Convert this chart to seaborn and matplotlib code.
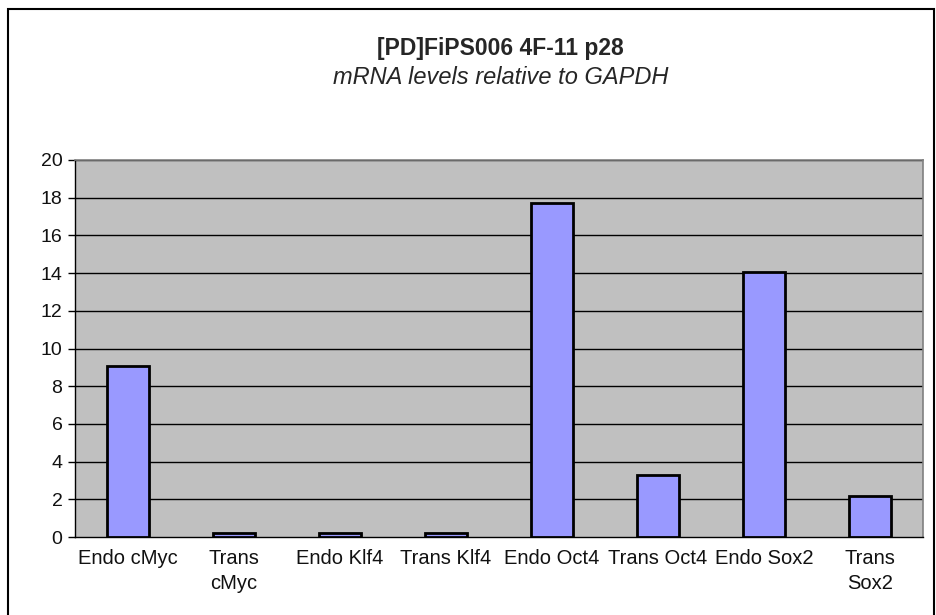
import matplotlib
matplotlib.use("Agg")
import matplotlib.pyplot as plt
import seaborn as sns
import pandas as pd
import numpy as np
from matplotlib.patches import Rectangle

categories = ["Endo cMyc", "Trans\ncMyc", "Endo Klf4", "Trans Klf4",
              "Endo Oct4", "Trans Oct4", "Endo Sox2", "Trans\nSox2"]
values = [9.05, 0.22, 0.22, 0.22, 17.7, 3.3, 14.05, 2.15]
y_ticks = [0, 2, 4, 6, 8, 10, 12, 14, 16, 18, 20]
title = "[PD]FiPS006 4F-11 p28"
subtitle = "mRNA levels relative to GAPDH"

sns.set_style("white")
plt.rcParams['font.family'] = ['Liberation Sans', 'DejaVu Sans']

df = pd.DataFrame({"cat": categories, "val": values})

fig = plt.figure(figsize=(9.37, 6.15), dpi=100)
ax = fig.add_axes([75/937, 78/615, 848/937, 377/615])
ax.set_facecolor("#C0C0C0")

sns.barplot(data=df, x="cat", y="val", color="#9999FF", width=0.4,
            edgecolor="black", linewidth=2, saturation=1, ax=ax, zorder=3)

ax.set_ylim(0, 20)
ax.set_xlim(-0.5, len(categories) - 0.5)
ax.set_yticks(y_ticks)
ax.set_yticklabels([str(t) for t in y_ticks], fontsize=14, color="#111111")
for t in y_ticks[1:]:
    ax.axhline(t, color="black", lw=1, zorder=1)

ax.set_xticks(np.arange(len(categories)))
ax.set_xticklabels(categories, fontsize=14.5, linespacing=1.35, color="#111111")
ax.tick_params(axis="x", length=0, pad=9)
ax.set_xticks(np.arange(-0.5, len(categories)), minor=True)
ax.tick_params(axis="x", which="minor", length=5, width=1, direction="out", color="black")
ax.tick_params(axis="y", length=5, width=1, direction="out", color="black", pad=4, left=True)
ax.set_xlabel("")
ax.set_ylabel("")

for s in ["left", "bottom"]:
    ax.spines[s].set_color("black")
    ax.spines[s].set_linewidth(1)
for s in ["top", "right"]:
    ax.spines[s].set_color("#808080")
    ax.spines[s].set_linewidth(1.2)

cx = (75 + 848 / 2) / 937 + 0.002
fig.text(cx, 1 - 49/615, title, ha="center", va="center",
         fontsize=16.5, fontweight="bold")
fig.text(cx, 1 - 77/615, subtitle, ha="center", va="center",
         fontsize=17, fontstyle="italic")

# chart border
fig.patches.append(Rectangle((8/937, -0.01), 926/937, 1 - 9/615 + 0.01,
                             transform=fig.transFigure, fill=False,
                             edgecolor="black", lw=1.5))

fig.savefig("out.png", dpi=100)
